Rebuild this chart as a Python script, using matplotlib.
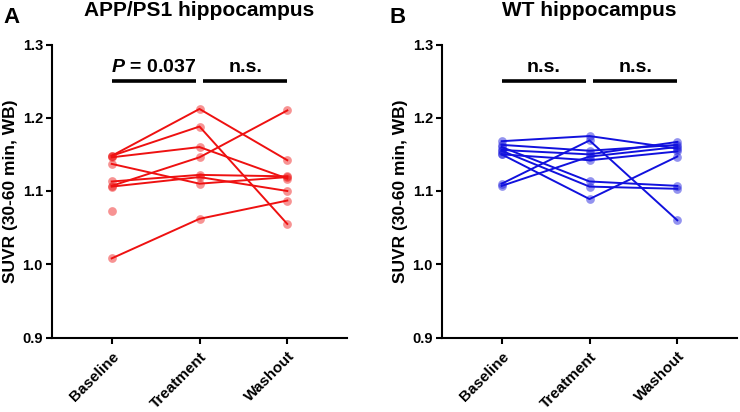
import numpy as np
import matplotlib
matplotlib.use("Agg")
import matplotlib.pyplot as plt

plt.rcParams['font.family'] = ['Liberation Sans', 'DejaVu Sans']
plt.rcParams['font.weight'] = 'bold'
plt.rcParams['mathtext.fontset'] = 'custom'
plt.rcParams['mathtext.it'] = 'Liberation Sans:bold:italic'
plt.rcParams['mathtext.rm'] = 'Liberation Sans:bold'

conditions = ["Baseline", "Treatment", "Washout"]

# APP/PS1 hippocampus, one row per animal (baseline, treatment, washout)
app_values = [
    [1.148, 1.212, 1.142],
    [1.148, 1.188, 1.055],
    [1.146, 1.160, 1.117],
    [1.137, 1.110, 1.119],
    [1.107, 1.146, 1.210],
    [1.113, 1.122, 1.120],
    [1.106, 1.119, 1.100],
    [1.008, 1.062, 1.087],
]
app_extra_baseline = [1.073]  # no follow-up

# WT hippocampus
wt_values = [
    [1.168, 1.175, 1.158],
    [1.163, 1.155, 1.163],
    [1.156, 1.150, 1.167],
    [1.150, 1.142, 1.154],
    [1.110, 1.169, 1.060],
    [1.107, 1.147, 1.160],
    [1.160, 1.113, 1.107],
    [1.155, 1.106, 1.103],
    [1.150, 1.089, 1.147],
]

app_labels = ["$P$ = 0.037", "n.s."]
wt_labels = ["n.s.", "n.s."]


def draw_panel(ax, values, color, labels, extra=None):
    x = np.arange(len(conditions))
    for row in values:
        ax.plot(x, row, color=color, lw=1.4, zorder=2)
        ax.plot(x, row, 'o', color=color, ms=6.3, alpha=0.45, mec='none', zorder=3)
    if extra:
        ax.plot([0] * len(extra), extra, 'o', color=color, ms=6.3, alpha=0.45, mec='none')
    # significance bars
    ybar = 1.2495
    for (a, b), lab in zip([(0, 0.96), (1.04, 2)], labels):
        ax.plot([a, b], [ybar, ybar], color='black', lw=2.6, solid_capstyle='butt', clip_on=False)
        ax.text((a + b) / 2, 1.2625, lab, ha='center', va='baseline',
                fontsize=14, fontweight='bold')
    ax.set_xlim(-0.68, 2.68)
    ax.set_ylim(0.9, 1.3)
    ax.set_yticks([0.9, 1.0, 1.1, 1.2, 1.3])
    ax.set_yticklabels(["0.9", "1.0", "1.1", "1.2", "1.3"])
    ax.set_xticks(x)
    ax.set_xticklabels(conditions, rotation=45, ha='right', rotation_mode='anchor')
    ax.tick_params(axis='both', width=1.5, length=4.5)
    ax.tick_params(axis='y', labelsize=10.5, pad=2)
    ax.tick_params(axis='x', labelsize=11, pad=4)
    for s in ['top', 'right']:
        ax.spines[s].set_visible(False)
    for s in ['left', 'bottom']:
        ax.spines[s].set_linewidth(1.5)
    ax.set_ylabel("SUVR (30-60 min, WB)", fontsize=12.5, fontweight='bold', labelpad=3)


fig = plt.figure(figsize=(7.4, 4.12), dpi=100)
ax1 = fig.add_axes([52 / 740, 1 - 337.5 / 412, 295 / 740, 293 / 412])
ax2 = fig.add_axes([442 / 740, 1 - 337.5 / 412, 295 / 740, 293 / 412])

draw_panel(ax1, app_values, '#ee1111', app_labels, app_extra_baseline)
draw_panel(ax2, wt_values, '#1111dd', wt_labels)

fig.text(199.5 / 740, 1 - 15.5 / 412, "APP/PS1 hippocampus", fontsize=15,
         fontweight='bold', ha='center', va='baseline')
fig.text(589.5 / 740, 1 - 15.5 / 412, "WT hippocampus", fontsize=15,
         fontweight='bold', ha='center', va='baseline')
fig.text(3 / 740, 1 - 23 / 412, "A", fontsize=16, fontweight='bold', va='baseline')
fig.text(390 / 740, 1 - 23 / 412, "B", fontsize=16, fontweight='bold', va='baseline')

fig.savefig("out.png", dpi=100)
